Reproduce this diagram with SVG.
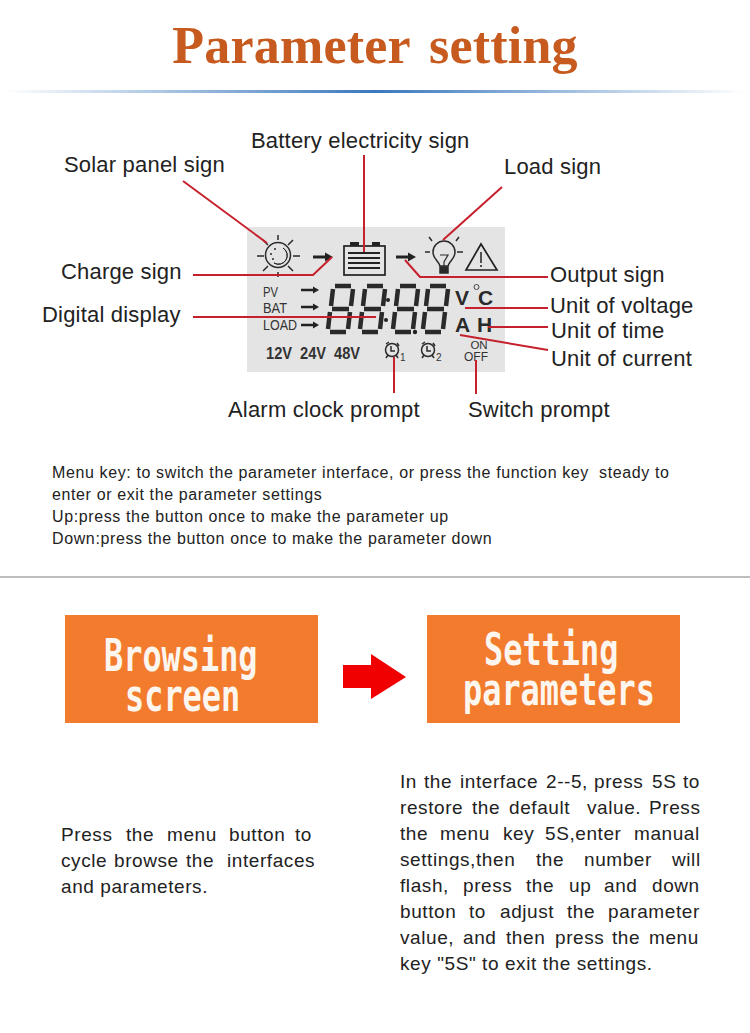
<svg xmlns="http://www.w3.org/2000/svg" width="750" height="1033" viewBox="0 0 750 1033">
<style>
text{font-family:"Liberation Sans",Arial,sans-serif}
.lb{font-size:22px;letter-spacing:.19px;fill:#222}
.bd{font-size:16px;letter-spacing:.62px;fill:#222}
.ds{font-size:19px;letter-spacing:.58px;fill:#222}
.lcd{font-size:15px;fill:#333}
.v{font-size:17px;font-weight:bold;fill:#333}
.unit{font-size:21px;font-weight:bold;fill:#2a2a2a}
.bt{font-family:"DejaVu Sans Mono",monospace;font-weight:bold;font-size:44px;fill:#fdf6ee}
.ln{fill:none;stroke:#c6202c;stroke-width:2}
.ic{fill:none;stroke:#2a2a2a;stroke-width:1.500}
.seg{fill:none;stroke:#2a2a2a;stroke-width:4.500}
</style>
<defs>
<linearGradient id="g"><stop offset="0" stop-color="#3a78bd" stop-opacity="0"/><stop offset=".5" stop-color="#3a78bd"/><stop offset="1" stop-color="#3a78bd" stop-opacity="0"/></linearGradient>
<g id="dig"><path class="seg" d="M8 2H24M6 5L4 22M26 5L24 22M5 25H22M3 28L1 45M23 28L21 45M3 48H19"/></g>
<g id="ar"><path d="M0 0H14" stroke="#222" stroke-width="2.500"/><path d="M12-3.500L18 0L12 3.500Z" fill="#222"/></g>
<g id="clock" class="ic"><circle cx="0" cy="0" r="6.500"/><path d="M-1-4V1H3M-6-6L-3-8M5-7L7-4M-4 5L-6 8M4 5L6 8"/></g>
</defs>
<rect width="750" height="1033" fill="#fff"/>
<text id="title" x="375" y="63" text-anchor="middle" style="font-family:'Liberation Serif',serif;font-weight:bold;font-size:52px;letter-spacing:.2px;word-spacing:6px" fill="#c75a1e">Parameter setting</text>
<rect id="rule" x="5" y="90" width="740" height="3" fill="url(#g)"/>

<g id="lcd">
<rect x="247" y="227" width="258" height="145" fill="#e4e4e4"/>
<g id="solar" class="ic"><circle cx="278" cy="255" r="12.500"/><path d="M278 235V240M278 272V277M257 256H264M293 256H300M263 240L268 245M293 240L288 245M263 271L268 266M293 271L288 266"/><path d="M283 248A8.500 8.500 0 0 1 274 263A6.500 6.500 0 0 0 283 248Z" fill="#2a2a2a" stroke-width="1"/><circle cx="271" cy="254" r="1" fill="#2a2a2a" stroke="none"/><circle cx="275" cy="249" r="1" fill="#2a2a2a" stroke="none"/><circle cx="273" cy="259" r="1" fill="#2a2a2a" stroke="none"/></g>
<path d="M313 257H327" stroke="#222" stroke-width="3"/><path d="M325 252.500L333 257L325 261.500Z" fill="#222"/>
<g id="battery"><rect x="344" y="246" width="41" height="29" fill="none" stroke="#222" stroke-width="1.700"/><path d="M350 246V242H359V246ZM372 246V242H380V246Z" fill="#222"/><path d="M348 253H380M348 258H380M348 263H380M348 268H380" stroke="#222" stroke-width="1.800"/></g>
<path d="M396 257H410" stroke="#222" stroke-width="3"/><path d="M408 252.500L416 257L408 261.500Z" fill="#222"/>
<g id="bulb" class="ic"><path d="M440 266C438 260 433 259 433 252A11 11 0 0 1 455 252C455 259 450 260 448 266Z"/><path d="M440 267H448V273H440Z" fill="#2a2a2a"/><path d="M440 255H448L444 262V266" stroke-width="1.200"/><path d="M425 252H430M432 241L429 237M456 241L459 237M457 252H463"/></g>
<g id="warn"><path d="M481 244L497 270H466Z" fill="none" stroke="#222" stroke-width="1.700"/><path d="M481 252V263M481 265V267" stroke="#222" stroke-width="1.500"/></g>
<text class="lcd" x="263" y="297" textLength="15" lengthAdjust="spacingAndGlyphs">PV</text>
<text class="lcd" x="263" y="313" textLength="24" lengthAdjust="spacingAndGlyphs">BAT</text>
<text class="lcd" x="263" y="330" textLength="34" lengthAdjust="spacingAndGlyphs">LOAD</text>
<use href="#ar" x="301" y="290"/><use href="#ar" x="301" y="307"/><use href="#ar" x="301" y="325"/>
<use href="#dig" x="327" y="284"/><use href="#dig" x="359" y="284"/><use href="#dig" x="392" y="284"/><use href="#dig" x="422" y="284"/>
<circle cx="388" cy="300" r="2" fill="#222"/><circle cx="386" cy="320" r="2" fill="#222"/><circle cx="415" cy="332" r="2.200" fill="#222"/>
<text class="unit" x="455" y="305">V</text>
<circle cx="476.500" cy="287" r="2.500" fill="none" stroke="#444"/>
<text class="unit" x="478" y="305">C</text>
<text class="unit" x="455" y="332">A</text>
<text class="unit" x="477" y="332">H</text>
<text class="v" x="266" y="359" textLength="26" lengthAdjust="spacingAndGlyphs">12V</text>
<text class="v" x="300" y="359" textLength="26" lengthAdjust="spacingAndGlyphs">24V</text>
<text class="v" x="334" y="359" textLength="26" lengthAdjust="spacingAndGlyphs">48V</text>
<use href="#clock" x="392" y="350"/><text x="400" y="361" style="font-size:10px" fill="#333">1</text>
<use href="#clock" x="428" y="350"/><text x="436" y="361" style="font-size:10px" fill="#333">2</text>
<text x="479" y="349" text-anchor="middle" style="font-size:11.500px" fill="#333">ON</text>
<text x="476" y="361" text-anchor="middle" style="font-size:12px" fill="#333">OFF</text>
</g>

<g id="connectors">
<path class="ln" d="M183 181L267 243"/>
<path class="ln" d="M364 155V252"/>
<path class="ln" d="M502 187L443 240"/>
<path class="ln" d="M193 275H313L332 257"/>
<path class="ln" d="M405 260L420 277H548"/>
<path class="ln" d="M193 317H376"/>
<path class="ln" d="M465 308H548"/>
<path class="ln" d="M488 327H548"/>
<path class="ln" d="M460 335L548 350"/>
<path class="ln" d="M394 357V393"/>
<path class="ln" d="M476 360V394"/>
<path d="M343 665H371V654L406 677L371 699V688H343Z" fill="#f00000"/>
</g>

<g id="labels">
<text class="lb" x="251" y="148">Battery electricity sign</text>
<text class="lb" x="64" y="172">Solar panel sign</text>
<text class="lb" x="504" y="174">Load sign</text>
<text class="lb" x="61" y="279">Charge sign</text>
<text class="lb" x="42" y="322">Digital display</text>
<text class="lb" x="550" y="282">Output sign</text>
<text class="lb" x="550" y="313">Unit of voltage</text>
<text class="lb" x="551" y="338">Unit of time</text>
<text class="lb" x="551" y="366">Unit of current</text>
<text class="lb" x="228" y="417">Alarm clock prompt</text>
<text class="lb" x="468" y="417">Switch prompt</text>
</g>

<g id="intro">
<text class="bd" x="52" y="478" xml:space="preserve">Menu key: to switch the parameter interface, or press the function key  steady to</text>
<text class="bd" x="52" y="500">enter or exit the parameter settings</text>
<text class="bd" x="52" y="522">Up:press the button once to make the parameter up</text>
<text class="bd" x="52" y="544">Down:press the button once to make the parameter down</text>
</g>
<rect id="sep" x="0" y="576" width="750" height="2" fill="#bdbdbd"/>

<g id="browse"><rect x="65" y="615" width="253" height="108" fill="#f27b2e"/>
<text class="bt" transform="translate(104,671) scale(.725,1)">Browsing</text><text class="bt" transform="translate(125,711) scale(.725,1)">screen</text></g>
<g id="setting"><rect x="427" y="615" width="253" height="108" fill="#f27b2e"/>
<text class="bt" transform="translate(484,665) scale(.725,1)">Setting</text><text class="bt" transform="translate(463,705) scale(.725,1)">parameters</text></g>

<g id="desc1">
<text class="ds" y="841"><tspan x="61">Press </tspan><tspan x="126">the </tspan><tspan x="167">menu </tspan><tspan x="229">button </tspan><tspan x="295">to</tspan></text>
<text class="ds" y="867"><tspan x="61">cycle </tspan><tspan x="114">browse </tspan><tspan x="186">the </tspan><tspan x="227">interfaces</tspan></text>
<text class="ds" x="61" y="893">and parameters.</text>
</g>
<g id="desc2">
<text class="ds" y="788"><tspan x="400">In </tspan><tspan x="424">the </tspan><tspan x="460">interface </tspan><tspan x="546">2--5, </tspan><tspan x="594">press </tspan><tspan x="652">5S </tspan><tspan x="683">to</tspan></text>
<text class="ds" y="814"><tspan x="400">restore </tspan><tspan x="472">the </tspan><tspan x="509">default </tspan><tspan x="587">value. </tspan><tspan x="649">Press</tspan></text>
<text class="ds" y="840"><tspan x="400">the </tspan><tspan x="440">menu </tspan><tspan x="503">key </tspan><tspan x="545">5S,enter </tspan><tspan x="634">manual</tspan></text>
<text class="ds" y="866"><tspan x="400">settings,then </tspan><tspan x="536">the </tspan><tspan x="584">number </tspan><tspan x="672">will</tspan></text>
<text class="ds" y="892"><tspan x="400">flash, </tspan><tspan x="463">press </tspan><tspan x="526">the </tspan><tspan x="569">up </tspan><tspan x="604">and </tspan><tspan x="652">down</tspan></text>
<text class="ds" y="918"><tspan x="400">button </tspan><tspan x="469">to </tspan><tspan x="500">adjust </tspan><tspan x="567">the </tspan><tspan x="608">parameter</tspan></text>
<text class="ds" y="944"><tspan x="400">value, </tspan><tspan x="463">and </tspan><tspan x="506">then </tspan><tspan x="555">press </tspan><tspan x="612">the </tspan><tspan x="649">menu</tspan></text>
<text class="ds" x="400" y="970">key "5S" to exit the settings.</text>
</g>
</svg>
